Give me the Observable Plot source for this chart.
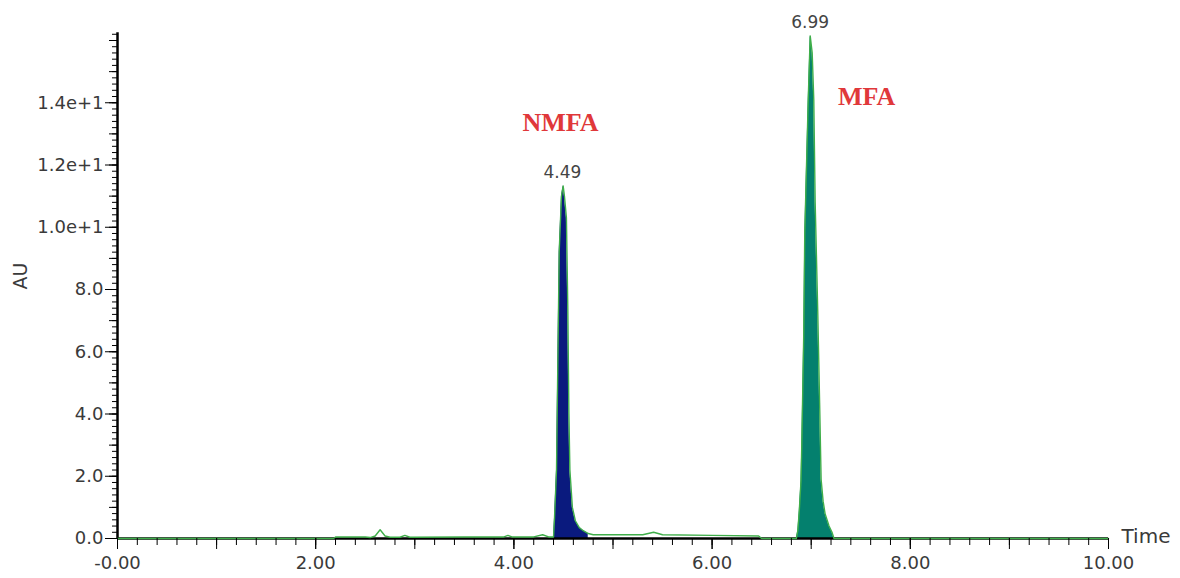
<!DOCTYPE html>
<html>
<head>
<meta charset="utf-8">
<script src="https://cdn.jsdelivr.net/npm/d3@7"></script>
<script src="https://cdn.jsdelivr.net/npm/@observablehq/plot@0.6"></script>
<style>
  html, body { margin: 0; padding: 0; background: #fff; }
  #chart svg { display: block; }
</style>
</head>
<body>
<div id="chart"></div>
<script>
// Chromatogram trace (time in min, AU)
const time = [0, 2.18, 2.2, 2.5, 2.55, 2.6, 2.65, 2.7, 2.75, 2.85, 2.9, 2.95, 3.5, 3.9, 3.94, 3.98, 4.2, 4.29, 4.35,
  4.40, 4.41, 4.43, 4.457, 4.48, 4.497, 4.51, 4.53, 4.544, 4.555, 4.565, 4.59, 4.62, 4.66, 4.70, 4.75,
  4.8, 5.3, 5.41, 5.5, 6.0, 6.47, 6.5,
  6.85, 6.865, 6.88, 6.897, 6.905, 6.925, 6.935, 6.97, 6.99, 7.01, 7.026, 7.04, 7.066, 7.085, 7.10, 7.12, 7.14, 7.18, 7.21, 7.23, 10];
const au = [0, 0, 0.05, 0.05, 0.03, 0.08, 0.28, 0.08, 0.04, 0.04, 0.1, 0.04, 0.05, 0.05, 0.1, 0.05, 0.05, 0.12, 0.05,
  0.05, 0.67, 2.2, 9.2, 11.0, 11.33, 11.0, 10.3, 7.4, 4.0, 2.2, 1.0, 0.57, 0.35, 0.25, 0.16,
  0.12, 0.12, 0.2, 0.12, 0.1, 0.08, 0,
  0, 0.25, 0.9, 1.84, 3.0, 6.6, 9.8, 14.1, 16.15, 15.6, 14.1, 10.8, 7.3, 4.35, 1.9, 1.2, 0.8, 0.4, 0.2, 0, 0];

// Peaks
const peakTimes = [4.49, 6.99];
const peakHeights = [11.33, 16.15];
const peakLabels = ["4.49", "6.99"];
const peakStart = [4.40, 6.85];
const peakEnd = [4.75, 7.23];
const peakFills = ["#0a1a7e", "#04806e"];

// Compound names
const compoundNames = ["NMFA", "MFA"];
const compoundX = [4.47, 7.56];
const compoundY = [13.35, 14.2];

// Axis ticks
const xTicks = [0, 2, 4, 6, 8, 10];
const xTickLabels = ["-0.00", "2.00", "4.00", "6.00", "8.00", "10.00"];
const yTicks = [0, 2, 4, 6, 8, 10, 12, 14];
const yTickLabels = ["0.0", "2.0", "4.0", "6.0", "8.0", "1.0e+1", "1.2e+1", "1.4e+1"];

const trace = time.map((t, i) => ({t, v: au[i]}));
const green = "#3fae4a";
const tickColor = "#3a3a3a";
const sans = "DejaVu Sans, Verdana, sans-serif";

const marks = [];
peakTimes.forEach((pt, k) => {
  marks.push(Plot.areaY(trace.filter(d => d.t >= peakStart[k] && d.t <= peakEnd[k]),
    {x: "t", y: "v", fill: peakFills[k]}));
});
marks.push(
  Plot.ruleY([0], {stroke: "#000", strokeWidth: 2.5}),
  Plot.ruleX([0], {y1: 0, y2: 16.25, stroke: "#000", strokeWidth: 2.5}),
  Plot.line(trace, {x: "t", y: "v", stroke: green, strokeWidth: 1.4}),
  // y axis ticks
  Plot.axisY(d3.range(0, 16.21, 0.2), {tickSize: 5, tickFormat: () => "", stroke: "#000"}),
  Plot.axisY(d3.range(0, 16.01, 1), {tickSize: 8, tickFormat: () => "", stroke: "#000"}),
  Plot.axisY(yTicks, {tickSize: 12, tickPadding: 2, tickFormat: (d) => yTickLabels[yTicks.indexOf(d)],
    fontSize: 18, fontFamily: sans, fill: tickColor, stroke: "#000"}),
  // x axis ticks
  Plot.axisX(d3.range(0, 10.01, 0.2), {tickSize: 7, tickFormat: () => "", stroke: "#000"}),
  Plot.axisX(d3.range(0, 10.01, 1), {tickSize: 11, tickFormat: () => "", stroke: "#000"}),
  Plot.axisX(xTicks, {tickSize: 11, tickPadding: 7, tickFormat: d => xTickLabels[xTicks.indexOf(d)],
    fontSize: 18, fontFamily: sans, fill: tickColor, stroke: "#000"}),
  // peak retention labels
  Plot.text(peakLabels, {x: (d, i) => peakTimes[i], y: (d, i) => peakHeights[i], dy: -13,
    fontSize: 17, fill: "#444", fontFamily: sans}),
  // compound names
  Plot.text(compoundNames, {x: (d, i) => compoundX[i], y: (d, i) => compoundY[i],
    fontSize: 26, fontWeight: "bold", fill: "#e0383a", fontFamily: "Liberation Serif, Times New Roman, serif"}),
  // axis titles
  Plot.text(["AU"], {frameAnchor: "left", dx: -97, rotate: -90, fontSize: 19, fontFamily: sans, fill: tickColor}),
  Plot.text(["Time"], {frameAnchor: "bottom-right", dx: 13, dy: 4, textAnchor: "start", fontSize: 20, fontFamily: sans, fill: tickColor})
);

const chart = Plot.plot({
  width: 1180,
  height: 578,
  marginLeft: 117,
  marginRight: 72,
  marginTop: 40,
  marginBottom: 40,
  style: {fontFamily: sans, background: "#fff", overflow: "visible"},
  x: {domain: [0, 10], label: null},
  y: {domain: [0, 16], label: null},
  marks
});
document.getElementById("chart").appendChild(chart);
</script>
</body>
</html>
